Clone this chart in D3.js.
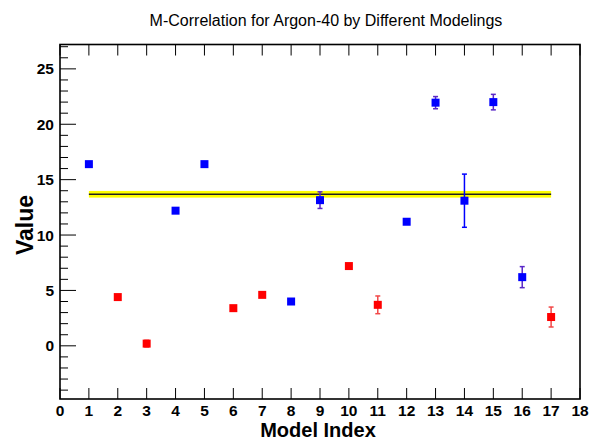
<!DOCTYPE html>
<html><head><meta charset="utf-8">
<script src="https://cdn.jsdelivr.net/npm/d3@7"></script>
<style>body{margin:0;background:#fff}svg{display:block}text{font-family:"Liberation Sans",Arial,sans-serif}</style>
</head><body><svg id="c" width="592" height="441"></svg>
<script>
const modelIndex = [1,2,3,4,5,6,7,8,9,10,11,12,13,14,15,16,17];
const values =     [16.4,4.4,0.2,12.2,16.4,3.4,4.6,4.0,13.15,7.2,3.7,11.2,21.95,13.1,22.0,6.2,2.6];
const errors =     [0,0,0.3,0,0,0,0,0,0.75,0,0.8,0,0.55,2.4,0.7,0.95,0.9];
const groups =     ["b","r","r","b","b","r","r","b","b","r","r","b","b","b","b","b","r"];
const xTicks = d3.range(0,19);
const yMajorTicks = [0,5,10,15,20,25];
const yMinorTicks = d3.range(-4,28);
const meanValue = 13.68, meanError = 0.3, meanFrom = 1, meanTo = 17;

const svg = d3.select("#c");
const L=60,R=580,T=44.5,B=399;
const x = d3.scaleLinear().domain([0,18]).range([L,R]);
const y = d3.scaleLinear().domain([-4.8,27.2]).range([B,T]);
const colors = {b:"#0000ff", r:"#ff0000"};
const errColors = {b:"#5a28c8", r:"#f24848"};

// title
svg.append("text").attr("x",326).attr("y",26).attr("text-anchor","middle")
  .attr("font-size",16).text("M-Correlation for Argon-40 by Different Modelings");

// mean band
svg.append("rect").attr("x",x(meanFrom)).attr("width",x(meanTo)-x(meanFrom))
  .attr("y",y(meanValue+meanError)).attr("height",y(meanValue-meanError)-y(meanValue+meanError))
  .attr("fill","#ffff00");
svg.append("line").attr("x1",x(meanFrom)).attr("x2",x(meanTo))
  .attr("y1",y(meanValue)).attr("y2",y(meanValue)).attr("stroke","#222").attr("stroke-width",1.5);

// axes ticks
const g = svg.append("g");
yMinorTicks.forEach(v=>{
  const major = yMajorTicks.includes(v);
  g.append("line").attr("x1",L).attr("x2",L+(major?16:8)).attr("y1",y(v)).attr("y2",y(v))
   .attr("stroke","#000").attr("stroke-width",1);
});
yMajorTicks.forEach(v=>{
  g.append("text").attr("x",54).attr("y",y(v)+5.5).attr("text-anchor","end")
   .attr("font-size",15.5).attr("font-weight","bold").text(v);
});
xTicks.forEach(v=>{
  g.append("line").attr("x1",x(v)).attr("x2",x(v)).attr("y1",B).attr("y2",B-11).attr("stroke","#000");
  g.append("line").attr("x1",x(v)).attr("x2",x(v)).attr("y1",T).attr("y2",T+11).attr("stroke","#000");
  g.append("text").attr("x",x(v)).attr("y",416).attr("text-anchor","middle")
   .attr("font-size",15.5).attr("font-weight","bold").text(v);
});
// frame
svg.append("rect").attr("x",L).attr("y",T).attr("width",R-L).attr("height",B-T)
  .attr("fill","none").attr("stroke","#000").attr("stroke-width",1.6);

// axis titles
svg.append("text").attr("x",318).attr("y",437).attr("text-anchor","middle")
  .attr("font-size",20).attr("font-weight","bold").text("Model Index");
svg.append("text").attr("transform","translate(33,225) rotate(-90)").attr("text-anchor","middle")
  .attr("font-size",23).attr("font-weight","bold").text("Value");

// error bars
const pts = modelIndex.map((m,i)=>({m,v:values[i],e:errors[i],g:groups[i]}));
pts.filter(d=>d.e>0).forEach(d=>{
  const c = d.m===14 ? colors.b : errColors[d.g];
  svg.append("line").attr("x1",x(d.m)).attr("x2",x(d.m)).attr("y1",y(d.v-d.e)).attr("y2",y(d.v+d.e))
    .attr("stroke",c).attr("stroke-width",1.5);
  [d.v-d.e,d.v+d.e].forEach(yy=>{
    svg.append("line").attr("x1",x(d.m)-2.5).attr("x2",x(d.m)+2.5).attr("y1",y(yy)).attr("y2",y(yy))
      .attr("stroke",c).attr("stroke-width",1.5);
  });
});
// markers
svg.selectAll("rect.pt").data(pts).enter().append("rect").attr("class","pt")
  .attr("x",d=>x(d.m)-4).attr("y",d=>y(d.v)-4).attr("width",8).attr("height",8)
  .attr("fill",d=>colors[d.g]);
</script></body></html>
